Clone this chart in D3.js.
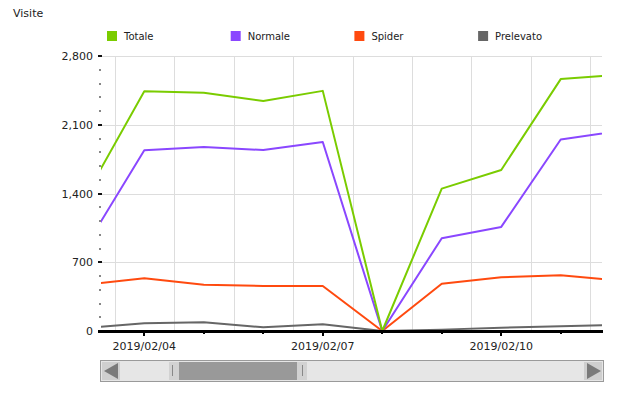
<!DOCTYPE html>
<html>
<head>
<meta charset="utf-8">
<script src="https://cdn.jsdelivr.net/npm/d3@7"></script>
<style>
html,body{margin:0;padding:0;background:#fff;}
svg{display:block;font-family:"DejaVu Sans",Verdana,sans-serif;}
</style>
</head>
<body>
<svg id="chart" width="620" height="393"></svg>
<script>
// ---- data ----
const dates = ["2019/02/03","2019/02/04","2019/02/05","2019/02/06","2019/02/07","2019/02/08","2019/02/09","2019/02/10","2019/02/11","2019/02/12"];
const totale    = [1360, 2440, 2425, 2342, 2445, 0, 1450, 1640, 2565, 2610];
const normale   = [845, 1840, 1873, 1843, 1925, 0, 945, 1060, 1950, 2038];
const spider    = [470, 537, 471, 458, 458, 0, 482, 547, 567, 514];
const prelevato = [31, 78, 89, 38, 68, 0, 14, 34, 48, 62];
const seriesNames = ["Totale","Normale","Spider","Prelevato"];
const seriesColors = ["#7acc00","#8a47ff","#ff4a0f","#666666"];
const yTicks = [0, 700, 1400, 2100, 2800];
const xTickLabels = ["2019/02/04","2019/02/07","2019/02/10"];
const yTitle = "Visite";

const parse = d3.timeParse("%Y/%m/%d");
const fmt = d3.timeFormat("%Y/%m/%d");
const DAY = 864e5;
const dayDates = dates.map(parse);
const allSeries = [totale, normale, spider, prelevato];

// visible window of the zoomed chart
const viewStart = new Date(dayDates[0].getTime() + 0.272 * DAY);
const viewEnd = new Date(dayDates[8].getTime() + 0.694 * DAY);

const svg = d3.select("#chart");
const L = 101, R = 602, T = 56, B = 331;

const x = d3.scaleTime().domain([viewStart, viewEnd]).range([L, R]);
const y = d3.scaleLinear().domain([0, 2800]).range([B, T]);

// title
svg.append("text").attr("x", 13).attr("y", 17).attr("font-size", 11).attr("fill", "#222").text(yTitle);

// legend
const leg = svg.append("g");
seriesNames.forEach((n, i) => {
  const lx = 107 + i * 123.7;
  leg.append("rect").attr("x", lx).attr("y", 31).attr("width", 10).attr("height", 10).attr("fill", seriesColors[i]);
  leg.append("text").attr("x", lx + 17).attr("y", 40).attr("font-size", 10).attr("fill", "#222").text(n);
});

// grid
const grid = svg.append("g");
yTicks.filter(v => v > 0).forEach(v => {
  grid.append("line").attr("x1", L).attr("x2", R).attr("y1", Math.round(y(v)) + 0.5).attr("y2", Math.round(y(v)) + 0.5)
    .attr("stroke", "#dddddd").attr("stroke-width", 1);
});
dayDates.forEach(d => {
  const noon = new Date(d.getTime() + DAY / 2);
  const px = x(noon);
  if (px >= L && px <= R) {
    grid.append("line").attr("x1", Math.round(px) + 0.5).attr("x2", Math.round(px) + 0.5).attr("y1", T).attr("y2", B)
      .attr("stroke", "#dddddd").attr("stroke-width", 1);
  }
});

// y axis ticks and labels
const yMinor = d3.range(0, 2801, 140);
yMinor.forEach(v => {
  const major = yTicks.includes(v);
  svg.append("rect").attr("x", major ? 98 : 99).attr("y", Math.round(y(v)) - (major ? 1 : 0.5))
    .attr("width", major ? 4 : 2).attr("height", major ? 2 : 1).attr("fill", "#111");
});
const yFmt = d3.format(",");
yTicks.forEach(v => {
  svg.append("text").attr("x", 93).attr("y", y(v) + 4).attr("text-anchor", "end")
    .attr("font-size", 11).attr("fill", "#222").text(yFmt(v));
});

// clip for lines
svg.append("clipPath").attr("id", "clip").append("rect").attr("x", L).attr("y", 0).attr("width", R - L).attr("height", B + 3);

const line = d3.line().x((d, i) => x(dayDates[i])).y(d => y(d));
const linesG = svg.append("g").attr("clip-path", "url(#clip)");
// draw back to front: Prelevato, Spider, Normale, Totale
[3, 2, 1, 0].forEach(si => {
  linesG.append("path").datum(allSeries[si]).attr("d", line)
    .attr("fill", "none").attr("stroke", seriesColors[si]).attr("stroke-width", 2).attr("stroke-linejoin", "round");
});

// x axis
svg.append("rect").attr("x", L - 3).attr("y", B - 1).attr("width", R - L + 4).attr("height", 3).attr("fill", "#000");
dayDates.forEach(d => {
  const px = x(d);
  if (px < L || px > R) return;
  const label = fmt(d);
  const major = xTickLabels.includes(label);
  svg.append("rect").attr("x", Math.round(px) - 1).attr("y", B).attr("width", 2).attr("height", major ? 5 : 3).attr("fill", "#000");
  if (major) {
    svg.append("text").attr("x", px).attr("y", 350).attr("text-anchor", "middle")
      .attr("font-size", 11).attr("fill", "#222").text(label);
  }
});

// scrollbar (navigator)
const sb = svg.append("g");
sb.append("rect").attr("x", 100.5).attr("y", 360.5).attr("width", 503).attr("height", 21).attr("fill", "#e6e6e6").attr("stroke", "#9a9a9a");
// left button
sb.append("rect").attr("x", 102).attr("y", 362).attr("width", 18).attr("height", 18).attr("fill", "#cfcfcf");
sb.append("path").attr("d", "M104,371 L118,363 L118,379 Z").attr("fill", "#7a7a7a");
// right button
sb.append("rect").attr("x", 584).attr("y", 362).attr("width", 18).attr("height", 18).attr("fill", "#cfcfcf");
sb.append("path").attr("d", "M601,371 L587,363 L587,379 Z").attr("fill", "#7a7a7a");
// thumb
sb.append("rect").attr("x", 169).attr("y", 362).attr("width", 10).attr("height", 18).attr("fill", "#d2d2d2");
sb.append("rect").attr("x", 297).attr("y", 362).attr("width", 10).attr("height", 18).attr("fill", "#d2d2d2");
sb.append("rect").attr("x", 179).attr("y", 362).attr("width", 118).attr("height", 18).attr("fill", "#999999");
sb.append("rect").attr("x", 172).attr("y", 365).attr("width", 1).attr("height", 11).attr("fill", "#888");
sb.append("rect").attr("x", 302).attr("y", 365).attr("width", 1).attr("height", 11).attr("fill", "#888");
</script>
</body>
</html>
